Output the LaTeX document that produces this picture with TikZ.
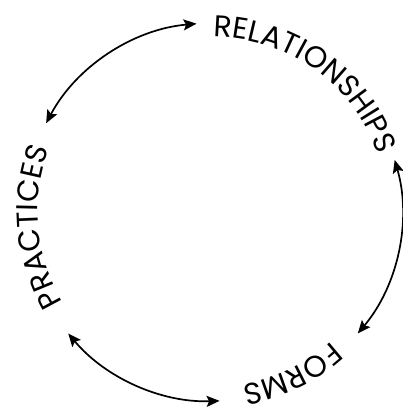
\documentclass[tikz,border=0pt]{standalone}
\usepackage{fontspec}
\usepackage{tikz}
\usetikzlibrary{arrows.meta,calc,decorations.text}
\newfontfamily\arcfont{Poppins}
\newcommand{\labelfont}{\arcfont\fontsize{30}{32}\selectfont}
\tikzset{
  biarrow/.style={line width=1.7pt,{Stealth[length=13pt,width=11pt,inset=2.5pt]}-{Stealth[length=13pt,width=11pt,inset=2.5pt]}},
  arclabel/.style={decorate,decoration={text along path,text align=center,text={|\labelfont|#1}}}
}
\begin{document}
\begin{tikzpicture}[x=1pt,y=1pt]
		\def\r{189}
		\def\rt{175}
		\useasboundingbox (0,0) rectangle (403,410);
		\coordinate (O) at (213,198);
		% arrow ends on the circle
		\coordinate (pr1) at ($(O)+(152:\r)$);
		\coordinate (re1) at ($(O)+(95:\r)$);
		\coordinate (re2) at ($(O)+(16:\r)$);
		\coordinate (fo1) at ($(O)+(-40:\r)$);
		\coordinate (fo2) at ($(O)+(272:\r)$);
		\coordinate (pr2) at ($(O)+(220:\r)$);
		% labels
		\path[arclabel=RELATIONSHIPS] ($(O)+(124:\rt)$) arc[start angle=124,end angle=-15,radius=\rt];
		\path[arclabel=FORMS] ($(O)+(356:\rt)$) arc[start angle=356,end angle=236,radius=\rt];
		\path[arclabel=PRACTICES] ($(O)+(245:\rt)$) arc[start angle=245,end angle=125,radius=\rt];
		% connectors
		\draw[biarrow] (pr1) arc[start angle=152,end angle=95,radius=\r];
		\draw[biarrow] (re2) arc[start angle=16,end angle=-40,radius=\r];
		\draw[biarrow] (pr2) arc[start angle=220,end angle=272,radius=\r];
	\end{tikzpicture}
\end{document}
